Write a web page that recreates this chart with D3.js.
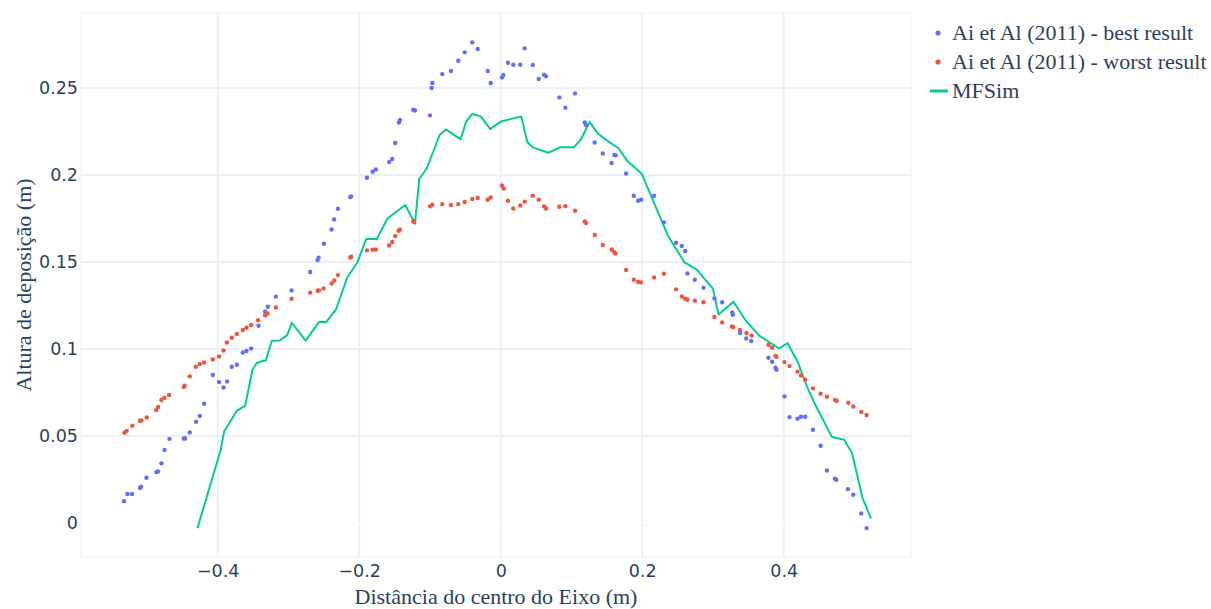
<!DOCTYPE html>
<html>
<head>
<meta charset="utf-8">
<script src="https://cdn.jsdelivr.net/npm/d3@7"></script>
<style>
  html, body { margin: 0; padding: 0; background: #fff; }
  svg { display: block; }
</style>
</head>
<body>
<svg id="chart" width="1211" height="609"></svg>
<script>
// Ai et Al (2011) – best result
const bestX = [-0.5324,-0.5276,-0.5211,-0.5098,-0.5083,-0.5007,-0.4866,-0.4843,-0.4795,-0.4752,-0.4682,-0.4479,-0.4461,-0.4395,-0.4306,-0.4253,-0.4192,-0.4069,-0.3980,-0.3918,-0.3867,-0.3801,-0.3730,-0.3645,-0.3593,-0.3528,-0.3423,-0.3330,-0.3291,-0.3178,-0.2956,-0.2693,-0.2588,-0.2574,-0.2499,-0.2390,-0.2354,-0.2301,-0.2127,-0.2113,-0.1891,-0.1810,-0.1764,-0.1576,-0.1533,-0.1491,-0.1438,-0.1424,-0.1236,-0.1212,-0.1000,-0.0976,-0.0967,-0.0826,-0.0703,-0.0600,-0.0509,-0.0402,-0.0325,-0.0184,-0.0141,0.0018,0.0037,0.0103,0.0178,0.0277,0.0339,0.0453,0.0537,0.0612,0.0641,0.0829,0.0914,0.1051,0.1188,0.1207,0.1327,0.1443,0.1567,0.1607,0.1624,0.1772,0.1881,0.1942,0.1984,0.2168,0.2306,0.2479,0.2560,0.2607,0.2639,0.2744,0.2866,0.3021,0.3130,0.3272,0.3281,0.3385,0.3470,0.3540,0.3785,0.3837,0.3884,0.3898,0.4011,0.4082,0.4195,0.4243,0.4304,0.4413,0.4521,0.4611,0.4724,0.4743,0.4908,0.4983,0.5096,0.5171];
const bestY = [0.0126,0.0167,0.0167,0.0201,0.0209,0.0260,0.0293,0.0297,0.0343,0.0420,0.0484,0.0486,0.0486,0.0521,0.0582,0.0615,0.0686,0.0851,0.0810,0.0779,0.0814,0.0898,0.0910,0.0980,0.0989,0.1003,0.1134,0.1216,0.1243,0.1301,0.1337,0.1443,0.1511,0.1525,0.1605,0.1687,0.1745,0.1806,0.1874,0.1877,0.1984,0.2019,0.2032,0.2075,0.2092,0.2184,0.2302,0.2316,0.2375,0.2371,0.2343,0.2500,0.2529,0.2580,0.2598,0.2657,0.2705,0.2762,0.2724,0.2598,0.2529,0.2561,0.2575,0.2645,0.2634,0.2634,0.2728,0.2632,0.2552,0.2576,0.2567,0.2446,0.2387,0.2469,0.2302,0.2287,0.2187,0.2124,0.2069,0.2115,0.2114,0.2009,0.1881,0.1852,0.1858,0.1881,0.1728,0.1611,0.1592,0.1563,0.1434,0.1398,0.1352,0.1291,0.1269,0.1210,0.1197,0.1092,0.1061,0.1046,0.0950,0.0927,0.0893,0.0881,0.0728,0.0609,0.0599,0.0611,0.0611,0.0536,0.0444,0.0302,0.0255,0.0249,0.0195,0.0163,0.0055,-0.0029];

// Ai et Al (2011) – worst result
const worstX = [-0.5318,-0.5286,-0.5205,-0.5098,-0.5078,-0.5003,-0.4871,-0.4843,-0.4795,-0.4752,-0.4687,-0.4479,-0.4465,-0.4395,-0.4310,-0.4253,-0.4192,-0.4069,-0.3980,-0.3918,-0.3871,-0.3801,-0.3730,-0.3645,-0.3593,-0.3528,-0.3429,-0.3330,-0.3296,-0.3178,-0.2956,-0.2693,-0.2588,-0.2570,-0.2504,-0.2390,-0.2354,-0.2301,-0.2127,-0.2113,-0.1891,-0.1810,-0.1764,-0.1576,-0.1533,-0.1491,-0.1443,-0.1424,-0.1236,-0.1222,-0.1000,-0.0967,-0.0826,-0.0703,-0.0600,-0.0509,-0.0402,-0.0325,-0.0184,-0.0141,0.0018,0.0042,0.0103,0.0178,0.0277,0.0339,0.0453,0.0537,0.0612,0.0641,0.0829,0.0914,0.1051,0.1188,0.1207,0.1330,0.1443,0.1570,0.1603,0.1621,0.1772,0.1881,0.1942,0.1984,0.2168,0.2306,0.2479,0.2560,0.2607,0.2639,0.2744,0.2866,0.3020,0.3130,0.3267,0.3286,0.3380,0.3474,0.3545,0.3785,0.3837,0.3884,0.3898,0.4011,0.4082,0.4195,0.4243,0.4304,0.4413,0.4521,0.4611,0.4724,0.4747,0.4912,0.4983,0.5096,0.5171];
const worstY = [0.0519,0.0530,0.0559,0.0588,0.0590,0.0607,0.0649,0.0667,0.0707,0.0720,0.0736,0.0782,0.0789,0.0843,0.0898,0.0914,0.0923,0.0940,0.0957,0.0992,0.1038,0.1065,0.1086,0.1109,0.1122,0.1138,0.1166,0.1194,0.1204,0.1239,0.1289,0.1324,0.1335,0.1337,0.1348,0.1377,0.1394,0.1425,0.1526,0.1530,0.1567,0.1571,0.1572,0.1595,0.1615,0.1649,0.1680,0.1686,0.1736,0.1730,0.1820,0.1829,0.1833,0.1828,0.1833,0.1845,0.1862,0.1868,0.1858,0.1871,0.1940,0.1923,0.1852,0.1808,0.1825,0.1847,0.1881,0.1858,0.1820,0.1808,0.1818,0.1821,0.1795,0.1733,0.1724,0.1655,0.1598,0.1572,0.1557,0.1549,0.1454,0.1398,0.1387,0.1383,0.1411,0.1433,0.1343,0.1302,0.1289,0.1283,0.1278,0.1269,0.1184,0.1153,0.1130,0.1126,0.1109,0.1092,0.1078,0.1025,0.1009,0.0961,0.0956,0.0925,0.0902,0.0870,0.0848,0.0824,0.0774,0.0743,0.0726,0.0707,0.0703,0.0691,0.0670,0.0638,0.0621];

// MFSim simulation profile
const simX = [-0.4286,-0.3960,-0.3909,-0.3730,-0.3612,-0.3508,-0.3447,-0.3358,-0.3320,-0.3235,-0.3122,-0.3018,-0.2952,-0.2758,-0.2570,-0.2467,-0.2330,-0.2226,-0.2170,-0.2028,-0.1901,-0.1750,-0.1604,-0.1349,-0.1212,-0.1151,-0.1047,-0.0863,-0.0774,-0.0566,-0.0491,-0.0402,-0.0283,-0.0147,0.0004,0.0291,0.0376,0.0453,0.0673,0.0839,0.1033,0.1132,0.1256,0.1372,0.1479,0.1666,0.1782,0.1994,0.2362,0.2593,0.2772,0.2999,0.3078,0.3290,0.3455,0.3658,0.3936,0.4054,0.4195,0.4328,0.4446,0.4682,0.4856,0.4965,0.5115,0.5233];
const simY = [-0.0029,0.0417,0.0526,0.0645,0.0674,0.0881,0.0920,0.0933,0.0933,0.1048,0.1049,0.1080,0.1151,0.1048,0.1155,0.1155,0.1226,0.1345,0.1411,0.1496,0.1632,0.1632,0.1749,0.1828,0.1720,0.1977,0.2036,0.2230,0.2262,0.2205,0.2305,0.2351,0.2337,0.2264,0.2308,0.2337,0.2190,0.2159,0.2128,0.2159,0.2159,0.2203,0.2305,0.2239,0.2205,0.2154,0.2084,0.2007,0.1653,0.1500,0.1456,0.1347,0.1199,0.1272,0.1168,0.1076,0.1003,0.1034,0.0929,0.0785,0.0680,0.0494,0.0479,0.0402,0.0144,0.0026];

const xTicks = [-0.4, -0.2, 0, 0.2, 0.4];
const yTicks = [0, 0.05, 0.1, 0.15, 0.2, 0.25];
const seriesNames = ["Ai et Al (2011) - best result", "Ai et Al (2011) - worst result", "MFSim"];
const seriesColors = ["#636efa", "#EF553B", "#00cc96"];
const xTitle = "Distância do centro do Eixo (m)";
const yTitle = "Altura de deposição (m)";

const plot = { left: 81, top: 13, right: 911, bottom: 557 };
const xDomain = [-0.5932, 0.5799];
const yDomain = [-0.0195, 0.2931];

const svg = d3.select("#chart");
const x = d3.scaleLinear().domain(xDomain).range([plot.left, plot.right]);
const y = d3.scaleLinear().domain(yDomain).range([plot.bottom, plot.top]);

const tickFont = "'DejaVu Sans', Verdana, sans-serif";
const serifFont = "'Liberation Serif', 'Times New Roman', serif";
const textColor = "#2a3f5f";
const gridColor = "#ebf0f8";

// grid
const grid = svg.append("g");
grid.selectAll("line.gx").data(xTicks).join("line")
  .attr("x1", d => x(d)).attr("x2", d => x(d))
  .attr("y1", plot.top).attr("y2", plot.bottom)
  .attr("stroke", gridColor).attr("stroke-width", 2);
grid.selectAll("line.gy").data(yTicks.filter(d => d !== 0)).join("line")
  .attr("x1", plot.left).attr("x2", plot.right)
  .attr("y1", d => y(d)).attr("y2", d => y(d))
  .attr("stroke", gridColor).attr("stroke-width", 2);
// zero line drawn in white
grid.append("line")
  .attr("x1", plot.left + 1).attr("x2", plot.right - 1)
  .attr("y1", y(0)).attr("y2", y(0))
  .attr("stroke", "#ffffff").attr("stroke-width", 2);
// frame
grid.append("rect")
  .attr("x", plot.left).attr("y", plot.top)
  .attr("width", plot.right - plot.left).attr("height", plot.bottom - plot.top)
  .attr("fill", "none").attr("stroke", gridColor).attr("stroke-width", 1);

// axes (labels only)
const fmt = d => d === 0 ? "0" : d3.format("")(d).replace("-", "\u2212");
const xAxis = svg.append("g")
  .attr("transform", `translate(0,${plot.bottom})`)
  .call(d3.axisBottom(x).tickValues(xTicks).tickSize(0).tickPadding(8).tickFormat(fmt));
xAxis.select(".domain").remove();
xAxis.selectAll("text").attr("font-family", tickFont).attr("font-size", 17.5).attr("fill", textColor).attr("dy", "0.68em");

const yAxis = svg.append("g")
  .attr("transform", `translate(${plot.left},0)`)
  .call(d3.axisLeft(y).tickValues(yTicks).tickSize(0).tickPadding(3).tickFormat(fmt));
yAxis.select(".domain").remove();
yAxis.selectAll("text").attr("font-family", tickFont).attr("font-size", 17.5).attr("fill", textColor);

// axis titles
svg.append("text")
  .attr("x", (plot.left + plot.right) / 2).attr("y", 604)
  .attr("text-anchor", "middle")
  .attr("font-family", serifFont).attr("font-size", 22).attr("fill", textColor)
  .text(xTitle);
svg.append("text")
  .attr("transform", `translate(31,${(plot.top + plot.bottom) / 2}) rotate(-90)`)
  .attr("text-anchor", "middle")
  .attr("font-family", serifFont).attr("font-size", 22).attr("fill", textColor)
  .text(yTitle);

// data
const clipId = "plotclip";
svg.append("clipPath").attr("id", clipId).append("rect")
  .attr("x", plot.left).attr("y", plot.top)
  .attr("width", plot.right - plot.left).attr("height", plot.bottom - plot.top);
const layer = svg.append("g").attr("clip-path", `url(#${clipId})`);

const simPts = simX.map((v, i) => [v, simY[i]]);
layer.append("path")
  .datum(simPts)
  .attr("d", d3.line().x(d => x(d[0])).y(d => y(d[1])))
  .attr("fill", "none").attr("stroke", seriesColors[2]).attr("stroke-width", 2)
  .attr("stroke-linejoin", "round");

const bestPts = bestX.map((v, i) => [v, bestY[i]]);
const worstPts = worstX.map((v, i) => [v, worstY[i]]);
layer.append("g").selectAll("circle").data(bestPts).join("circle")
  .attr("cx", d => x(d[0])).attr("cy", d => y(d[1])).attr("r", 2.2)
  .attr("fill", seriesColors[0]);
layer.append("g").selectAll("circle").data(worstPts).join("circle")
  .attr("cx", d => x(d[0])).attr("cy", d => y(d[1])).attr("r", 2.2)
  .attr("fill", seriesColors[1]);

// legend
const legend = svg.append("g").attr("transform", "translate(930,33)");
seriesNames.forEach((name, i) => {
  const row = legend.append("g").attr("transform", `translate(0,${i * 29})`);
  if (i < 2) {
    row.append("circle").attr("cx", 8).attr("cy", 0).attr("r", 2.6).attr("fill", seriesColors[i]);
  } else {
    row.append("line").attr("x1", 0).attr("x2", 18).attr("y1", 0).attr("y2", 0)
      .attr("stroke", seriesColors[i]).attr("stroke-width", 3);
  }
  row.append("text").attr("x", 22).attr("y", 0).attr("dy", "0.33em")
    .attr("font-family", serifFont).attr("font-size", 22).attr("fill", textColor)
    .text(name);
});
</script>
</body>
</html>
